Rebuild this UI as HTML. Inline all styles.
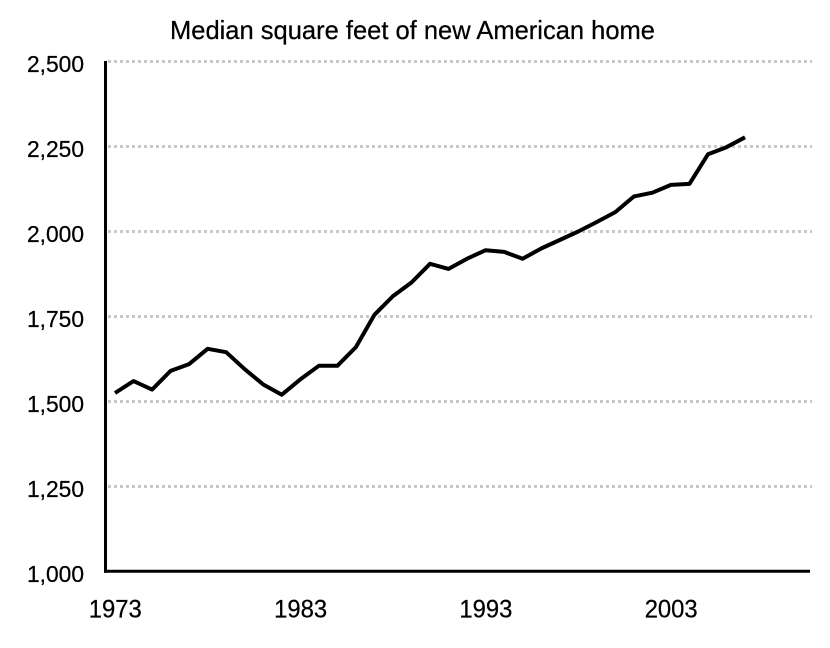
<!DOCTYPE html>
<html>
<head>
<meta charset="utf-8">
<style>
  html, body { margin: 0; padding: 0; background: #ffffff; }
  svg { display: block; }
  text { font-family: "Liberation Sans", "DejaVu Sans", sans-serif; fill: #000; stroke: #000; stroke-width: 0.25; }
</style>
</head>
<body>
<svg width="830" height="648" viewBox="0 0 830 648" xmlns="http://www.w3.org/2000/svg">
  <rect x="0" y="0" width="830" height="648" fill="#ffffff"/>

  <!-- title -->
  <text x="170" y="39" font-size="26" textLength="485" lengthAdjust="spacingAndGlyphs">Median square feet of new American home</text>

  <!-- gridlines -->
  <g stroke="#c8c8c8" stroke-width="3" stroke-dasharray="3 3">
    <line x1="108" y1="61.5" x2="812" y2="61.5"/>
    <line x1="108" y1="146.5" x2="812" y2="146.5"/>
    <line x1="108" y1="231.5" x2="812" y2="231.5"/>
    <line x1="108" y1="316.5" x2="812" y2="316.5"/>
    <line x1="108" y1="401.5" x2="812" y2="401.5"/>
    <line x1="108" y1="486.5" x2="812" y2="486.5"/>
  </g>

  <!-- y labels -->
  <g font-size="23" text-anchor="end">
    <text x="84" y="72" textLength="57" lengthAdjust="spacingAndGlyphs">2,500</text>
    <text x="84" y="157" textLength="57" lengthAdjust="spacingAndGlyphs">2,250</text>
    <text x="84" y="242" textLength="57" lengthAdjust="spacingAndGlyphs">2,000</text>
    <text x="84" y="327" textLength="57" lengthAdjust="spacingAndGlyphs">1,750</text>
    <text x="84" y="412" textLength="57" lengthAdjust="spacingAndGlyphs">1,500</text>
    <text x="84" y="497" textLength="57" lengthAdjust="spacingAndGlyphs">1,250</text>
    <text x="84" y="582" textLength="57" lengthAdjust="spacingAndGlyphs">1,000</text>
  </g>

  <!-- x labels -->
  <g font-size="25" text-anchor="middle">
    <text x="115.3" y="617.5" textLength="53" lengthAdjust="spacingAndGlyphs">1973</text>
    <text x="300.6" y="617.5" textLength="53" lengthAdjust="spacingAndGlyphs">1983</text>
    <text x="485.9" y="617.5" textLength="53" lengthAdjust="spacingAndGlyphs">1993</text>
    <text x="671.2" y="617.5" textLength="53" lengthAdjust="spacingAndGlyphs">2003</text>
  </g>

  <!-- axes -->
  <line x1="105.5" y1="61" x2="105.5" y2="572.7" stroke="#000" stroke-width="3"/>
  <line x1="104" y1="571.2" x2="810" y2="571.2" stroke="#000" stroke-width="3"/>

  <!-- data line -->
  <polyline fill="none" stroke="#000" stroke-width="4" stroke-linejoin="round" stroke-linecap="butt"
    points="115,393.0 133.53,381.1 152.06,389.6 170.59,370.9 189.12,364.1 207.65,348.8 226.18,352.2 244.71,369.2 263.24,384.5 281.77,394.7 300.3,379.4 318.83,365.8 337.36,365.8 355.89,347.1 374.42,314.8 392.95,296.1 411.48,282.5 430.01,263.8 448.54,268.9 467.07,258.7 485.6,250.2 504.13,251.9 522.66,258.7 541.19,248.5 559.72,240.0 578.25,231.5 596.78,222.0 615.31,212.1 633.84,196.5 652.37,192.7 670.9,184.9 689.43,183.9 707.96,154.3 726.49,147.2 745.02,137.3"/>
</svg>
</body>
</html>
